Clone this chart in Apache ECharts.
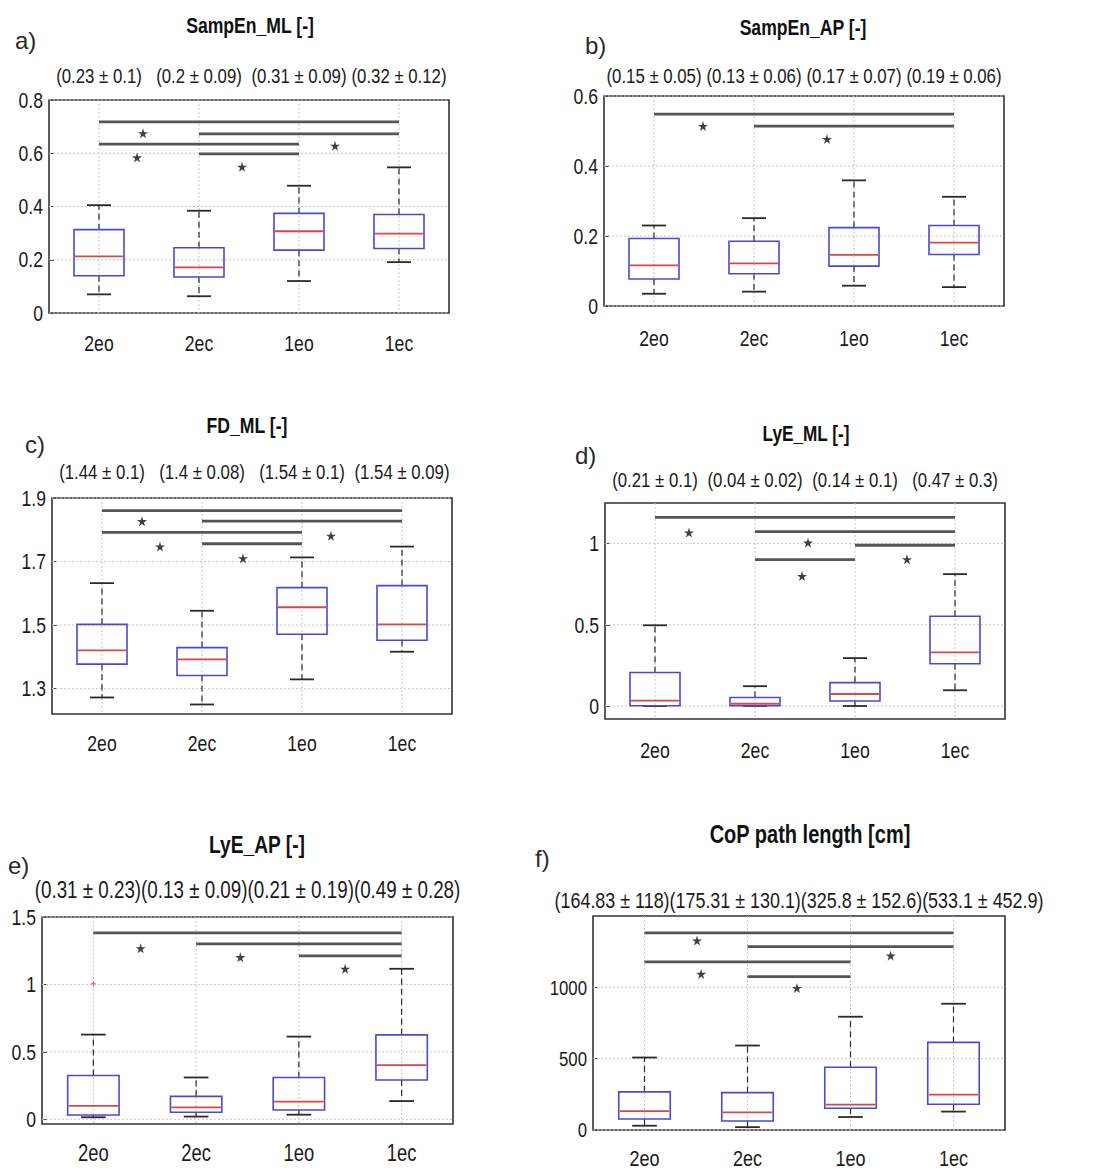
<!DOCTYPE html>
<html><head><meta charset="utf-8">
<script src="https://cdn.jsdelivr.net/npm/echarts@6/dist/echarts.min.js"></script>
<style>html,body{margin:0;padding:0;background:#fff}#chart{width:1100px;height:1171px}</style>
</head><body><div id="chart"></div>
<script>
// ---------- DATA ----------
const categories = ['2eo', '2ec', '1eo', '1ec'];

// a) SampEn_ML
const aTitle = 'SampEn_ML [-]';
const aMeans = ['(0.23 ± 0.1)', '(0.2 ± 0.09)', '(0.31 ± 0.09)', '(0.32 ± 0.12)'];
// [lower whisker, Q1, median, Q3, upper whisker]
const aBoxes = [[0.070, 0.140, 0.213, 0.313, 0.405], [0.063, 0.135, 0.171, 0.245, 0.384], [0.120, 0.236, 0.307, 0.374, 0.478], [0.191, 0.242, 0.298, 0.370, 0.547]];
// [from category, to category, level]
const aSigBars = [[0, 3, 0.718], [1, 3, 0.673], [0, 2, 0.634], [1, 2, 0.598]];
const aStars = [[0.44, 0.675], [0.38, 0.584], [1.43, 0.549], [2.36, 0.628]];
const aYTicks = [0, 0.2, 0.4, 0.6, 0.8];
const aYRange = [0, 0.8];

// b) SampEn_AP
const bTitle = 'SampEn_AP [-]';
const bMeans = ['(0.15 ± 0.05)', '(0.13 ± 0.06)', '(0.17 ± 0.07)', '(0.19 ± 0.06)'];
const bBoxes = [[0.035, 0.077, 0.116, 0.193, 0.230], [0.041, 0.092, 0.122, 0.185, 0.251], [0.058, 0.114, 0.146, 0.224, 0.359], [0.054, 0.147, 0.181, 0.230, 0.312]];
const bSigBars = [[0, 3, 0.548], [1, 3, 0.514]];
const bStars = [[0.49, 0.514], [1.73, 0.477]];
const bYTicks = [0, 0.2, 0.4, 0.6];
const bYRange = [0, 0.6];

// c) FD_ML
const cTitle = 'FD_ML [-]';
const cMeans = ['(1.44 ± 0.1)', '(1.4 ± 0.08)', '(1.54 ± 0.1)', '(1.54 ± 0.09)'];
const cBoxes = [[1.272, 1.377, 1.420, 1.502, 1.632], [1.250, 1.341, 1.392, 1.429, 1.545], [1.329, 1.471, 1.556, 1.618, 1.713], [1.416, 1.452, 1.502, 1.624, 1.747]];
const cSigBars = [[0, 3, 1.860], [1, 3, 1.827], [0, 2, 1.792], [1, 2, 1.756]];
const cStars = [[0.40, 1.827], [0.58, 1.747], [1.41, 1.710], [2.29, 1.781]];
const cYTicks = [1.3, 1.5, 1.7, 1.9];
const cYRange = [1.22, 1.9];

// d) LyE_ML
const dTitle = 'LyE_ML [-]';
const dMeans = ['(0.21 ± 0.1)', '(0.04 ± 0.02)', '(0.14 ± 0.1)', '(0.47 ± 0.3)'];
const dBoxes = [[0.000, 0.002, 0.033, 0.206, 0.497], [0.000, 0.002, 0.014, 0.052, 0.122], [0.000, 0.031, 0.074, 0.144, 0.295], [0.097, 0.260, 0.330, 0.553, 0.812]];
const dSigBars = [[0, 3, 1.161], [1, 3, 1.074], [2, 3, 0.990], [1, 2, 0.901]];
const dStars = [[0.34, 1.068], [1.53, 1.006], [1.47, 0.800], [2.52, 0.903]];
const dYTicks = [0, 0.5, 1];
const dYRange = [-0.08, 1.25];

// e) LyE_AP
const eTitle = 'LyE_AP [-]';
const eMeans = ['(0.31 ± 0.23)', '(0.13 ± 0.09)', '(0.21 ± 0.19)', '(0.49 ± 0.28)'];
const eBoxes = [[0.015, 0.032, 0.099, 0.325, 0.628], [0.020, 0.052, 0.089, 0.170, 0.310], [0.034, 0.069, 0.131, 0.310, 0.613], [0.135, 0.291, 0.401, 0.626, 1.116]];
const eSigBars = [[0, 3, 1.382], [1, 3, 1.300], [2, 3, 1.212]];
const eStars = [[0.46, 1.268], [1.43, 1.202], [2.45, 1.116]];
const eOutliers = [[0, 1.005]];
const eYTicks = [0, 0.5, 1, 1.5];
const eYRange = [-0.035, 1.5];

// f) CoP path length
const fTitle = 'CoP path length [cm]';
const fMeans = ['(164.83 ± 118)', '(175.31 ± 130.1)', '(325.8 ± 152.6)', '(533.1 ± 452.9)'];
const fBoxes = [[30, 77, 133, 267, 508], [20, 63, 124, 262, 592], [91, 152, 178, 440, 794], [129, 180, 248, 614, 885]];
const fSigBars = [[0, 3, 1382], [1, 3, 1286], [0, 2, 1178], [1, 2, 1075]];
const fStars = [[0.51, 1328], [0.55, 1094], [1.48, 995], [2.39, 1222]];
const fYTicks = [0, 500, 1000];
const fYRange = [0, 1500];

// ---------- LAYOUT / STYLE ----------
const FONT = "'Liberation Sans', Arial, sans-serif";
const TXT = '#1a1a1a';
const SX = 0.8; // horizontal squeeze of the reference lettering

const panels = [
  {letter: 'a)', title: aTitle, means: aMeans, boxes: aBoxes, sig: aSigBars, stars: aStars, outliers: [], ticks: aYTicks, range: aYRange},
  {letter: 'b)', title: bTitle, means: bMeans, boxes: bBoxes, sig: bSigBars, stars: bStars, outliers: [], ticks: bYTicks, range: bYRange},
  {letter: 'c)', title: cTitle, means: cMeans, boxes: cBoxes, sig: cSigBars, stars: cStars, outliers: [], ticks: cYTicks, range: cYRange},
  {letter: 'd)', title: dTitle, means: dMeans, boxes: dBoxes, sig: dSigBars, stars: dStars, outliers: [], ticks: dYTicks, range: dYRange},
  {letter: 'e)', title: eTitle, means: eMeans, boxes: eBoxes, sig: eSigBars, stars: eStars, outliers: eOutliers, ticks: eYTicks, range: eYRange},
  {letter: 'f)', title: fTitle, means: fMeans, boxes: fBoxes, sig: fSigBars, stars: fStars, outliers: [], ticks: fYTicks, range: fYRange}
];

// grid [left, top, width, height]; title [x, y, size]; letter [x, y]; meanGap/catGap: label centre distance from plot edge
const layouts = [
  {grid: [49, 100, 400, 213], title: [250, 25, 22], letter: [15, 40], meanMode: 'axis', meanGap: 24, meanSize: 21, catGap: 30, catSize: 22, tickSize: 22},
  {grid: [604, 96, 400, 210], title: [803, 27, 22], letter: [585, 45], meanMode: 'axis', meanGap: 20, meanSize: 21, catGap: 32, catSize: 22, tickSize: 22},
  {grid: [52, 498, 400, 216], title: [247, 425, 22], letter: [25, 444], meanMode: 'axis', meanGap: 26, meanSize: 21, catGap: 29, catSize: 22, tickSize: 22},
  {grid: [605, 503, 400, 216], title: [806, 433, 21.5], letter: [575, 455], meanMode: 'axis', meanGap: 23, meanSize: 21, catGap: 31, catSize: 22, tickSize: 22},
  {grid: [42, 917, 411, 207], title: [257, 845, 24], letter: [8, 865], meanMode: 'text', meanGap: 27, meanSize: 23.5, catGap: 29, catSize: 23, tickSize: 22},
  {grid: [593, 916, 412, 214], title: [810, 835, 25], letter: [535, 858], meanMode: 'text', meanGap: 16, meanSize: 22.4, catGap: 28, catSize: 22.5, tickSize: 21}
];

const STAR = 'path://M50,0 L61,35 L98,35 L68,57 L79,91 L50,70 L21,91 L32,57 L2,35 L39,35 Z';
const PLUS = 'path://M4,0 L6,0 L6,4 L10,4 L10,6 L6,6 L6,10 L4,10 L4,6 L0,6 L0,4 L4,4 Z';

// ---------- RENDER HELPERS ----------
function makeGridRenderer(ticks, nCat) {
  return function (params, api) {
    const cs = params.coordSys;
    const st = {stroke: '#c6c6c6', lineWidth: 1, lineDash: [2, 2]};
    const children = [];
    ticks.forEach(t => {
      const y = api.coord([0, t])[1];
      children.push({type: 'line', shape: {x1: cs.x, y1: y, x2: cs.x + cs.width, y2: y}, style: st});
    });
    for (let k = 0; k < nCat; k++) {
      const x = api.coord([k, ticks[0]])[0];
      children.push({type: 'line', shape: {x1: x, y1: cs.y, x2: x, y2: cs.y + cs.height}, style: st});
    }
    return {type: 'group', children, silent: true};
  };
}
function renderBox(params, api) {
  const k = api.value(0);
  const low = api.coord([k, api.value(1)]);
  const q1 = api.coord([k, api.value(2)]);
  const med = api.coord([k, api.value(3)]);
  const q3 = api.coord([k, api.value(4)]);
  const high = api.coord([k, api.value(5)]);
  const band = api.size([1, 0])[0];
  const bw = band * 0.5, cw = band * 0.24, cx = low[0];
  const dash = {stroke: '#2a2a2a', lineWidth: 1.2, lineDash: [6, 4], fill: null};
  const cap = {stroke: '#2a2a2a', lineWidth: 1.8};
  return {type: 'group', children: [
    {type: 'line', shape: {x1: cx, y1: q3[1], x2: cx, y2: high[1]}, style: dash},
    {type: 'line', shape: {x1: cx, y1: q1[1], x2: cx, y2: low[1]}, style: dash},
    {type: 'line', shape: {x1: cx - cw / 2, y1: high[1], x2: cx + cw / 2, y2: high[1]}, style: cap},
    {type: 'line', shape: {x1: cx - cw / 2, y1: low[1], x2: cx + cw / 2, y2: low[1]}, style: cap},
    {type: 'rect', shape: {x: cx - bw / 2, y: q3[1], width: bw, height: q1[1] - q3[1]},
      style: {fill: 'rgba(255,255,255,0)', stroke: '#4a4ad0', lineWidth: 1.6}},
    {type: 'line', shape: {x1: cx - bw / 2 + 1, y1: med[1], x2: cx + bw / 2 - 1, y2: med[1]},
      style: {stroke: '#d84848', lineWidth: 1.8}}
  ]};
}
function renderSig(params, api) {
  const p1 = api.coord([api.value(0), api.value(2)]);
  const p2 = api.coord([api.value(1), api.value(2)]);
  return {type: 'line', shape: {x1: p1[0], y1: p1[1], x2: p2[0], y2: p2[1]},
    style: {stroke: '#555', lineWidth: 2.8}};
}

// ---------- OPTION ----------
const grid = [], xAxis = [], yAxis = [], series = [];

panels.forEach((p, i) => {
  const L = layouts[i];
  grid.push({left: L.grid[0], top: L.grid[1], width: L.grid[2], height: L.grid[3],
    show: true, borderColor: '#333', borderWidth: 1.6, backgroundColor: '#fff'});
  xAxis.push({type: 'category', gridIndex: i, data: categories, position: 'bottom',
    axisLine: {show: false, onZero: false}, axisTick: {show: false}, splitLine: {show: false}, axisLabel: {show: false}});
  xAxis.push({type: 'value', gridIndex: i, min: -0.5, max: 3.5, show: false,
    axisLine: {show: false, onZero: false}});
  yAxis.push({type: 'value', gridIndex: i, min: p.range[0], max: p.range[1], position: 'left',
    axisLine: {show: false, onZero: false}, splitLine: {show: false},
    axisTick: {show: true, inside: true, length: 5, customValues: p.ticks, lineStyle: {color: '#444'}},
    axisLabel: {show: false}});

  const xc = 2 * i, xv = 2 * i + 1;
  series.push({type: 'custom', xAxisIndex: xv, yAxisIndex: i, renderItem: makeGridRenderer(p.ticks, categories.length),
    z: 1, encode: {x: 0, y: 1}, data: [[0, p.ticks[0]]], silent: true});
  series.push({type: 'custom', xAxisIndex: xc, yAxisIndex: i, renderItem: renderBox, z: 3,
    encode: {x: 0, y: [1, 2, 3, 4, 5]}, data: p.boxes.map((b, k) => [k].concat(b))});
  series.push({type: 'custom', xAxisIndex: xv, yAxisIndex: i, renderItem: renderSig, z: 4,
    encode: {x: [0, 1], y: 2}, data: p.sig});
  series.push({type: 'scatter', xAxisIndex: xv, yAxisIndex: i, symbol: STAR, symbolSize: 10, z: 5,
    itemStyle: {color: '#111'}, data: p.stars});
  if (p.outliers.length) {
    series.push({type: 'scatter', xAxisIndex: xc, yAxisIndex: i, symbol: PLUS, symbolSize: 5, z: 5,
      itemStyle: {color: '#e03030'}, data: p.outliers});
  }
});

const chart = echarts.init(document.getElementById('chart'), null, {renderer: 'svg', width: 1100, height: 1171});
chart.setOption({backgroundColor: '#fff', animation: false, grid, xAxis, yAxis, series});

// ---------- TEXT (placed through the axes' own scales) ----------
function txt(x, y, text, size, align, opts) {
  opts = opts || {};
  return {type: 'text', x, y, scaleX: opts.sx === undefined ? SX : opts.sx, silent: true,
    style: {text, font: (opts.bold ? 'bold ' : '') + size + 'px ' + FONT, fill: opts.fill || TXT,
      align, verticalAlign: 'middle'}};
}
const graphic = [];
panels.forEach((p, i) => {
  const L = layouts[i];
  const xv = 2 * i + 1;
  const px = (xVal, yVal) => chart.convertToPixel({xAxisIndex: xv, yAxisIndex: i}, [xVal, yVal]);
  const bottom = px(0, p.range[0])[1], top = px(0, p.range[1])[1];
  const left = px(-0.5, p.range[0])[0], right = px(3.5, p.range[0])[0];
  // y tick labels
  p.ticks.forEach(t => {
    const pt = px(-0.5, t);
    graphic.push(txt(pt[0] - 6, pt[1], String(t), L.tickSize, 'right'));
  });
  // category labels
  categories.forEach((c, k) => {
    graphic.push(txt(px(k, p.range[0])[0], bottom + L.catGap, c, L.catSize, 'center'));
  });
  // mean ± sd labels
  if (L.meanMode === 'axis') {
    p.means.forEach((m, k) => graphic.push(txt(px(k, p.range[1])[0], top - L.meanGap, m, L.meanSize, 'center')));
  } else {
    graphic.push(txt((left + right) / 2, top - L.meanGap, p.means.join(''), L.meanSize, 'center'));
  }
  graphic.push(txt(L.title[0], L.title[1], p.title, L.title[2], 'center', {bold: true, fill: '#111'}));
  graphic.push(txt(L.letter[0], L.letter[1], p.letter, 24, 'left', {sx: 1, fill: '#2a2a2a'}));
});
chart.setOption({graphic});
</script>
</body></html>
